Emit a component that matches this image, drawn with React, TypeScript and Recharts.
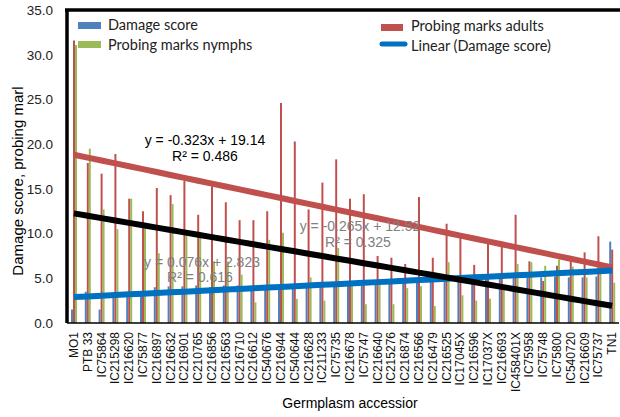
import { ComposedChart, Bar, Line, XAxis, YAxis } from 'recharts';

const accessions = [
  'MO1', 'PTB 33', 'IC75864', 'IC215298', 'IC216620', 'IC75877', 'IC216897', 'IC216632',
  'IC216901', 'IC210765', 'IC216856', 'IC216563', 'IC216710', 'IC216612', 'IC540676',
  'IC216944', 'IC540644', 'IC216628', 'IC211233', 'IC75735', 'IC216678', 'IC75747',
  'IC216640', 'IC215276', 'IC216874', 'IC216566', 'IC216479', 'IC216525', 'IC17045X',
  'IC216596', 'IC17037X', 'IC216693', 'IC458401X', 'IC75958', 'IC75748', 'IC75800',
  'IC540720', 'IC216609', 'IC75737', 'TN1',
];

const damageScore = [
  1.5, 3.5, 1.5, 2.8, 3.0, 3.2, 4.0, 4.1, 4.1, 4.2,
  4.0, 4.2, 4.2, 4.0, 4.2, 4.3, 4.3, 4.4, 4.3, 4.5,
  4.5, 4.6, 4.5, 4.7, 4.6, 4.8, 4.9, 4.8, 5.3, 5.1,
  5.1, 5.0, 5.1, 5.1, 5.1, 5.2, 5.1, 5.1, 5.2, 9.1,
];

const marksAdults = [
  31.6, 17.9, 16.7, 18.9, 13.9, 12.5, 15.1, 14.3, 15.9, 12.1,
  15.3, 13.5, 11.5, 11.5, 12.5, 24.6, 20.3, 12.7, 15.7, 18.3,
  13.9, 14.4, 7.5, 7.3, 6.6, 14.1, 7.3, 11.1, 9.5, 6.5,
  8.9, 8.5, 12.1, 6.9, 4.7, 6.4, 6.9, 7.9, 9.7, 8.2,
];

const marksNymphs = [
  31.1, 19.5, 12.7, 10.5, 13.9, 10.6, 7.8, 13.3, 9.9, 9.7,
  6.9, 6.9, 5.4, 2.3, 9.3, 10.1, 2.7, 5.1, 2.5, 8.4,
  4.3, 2.1, 4.3, 2.1, 3.9, 4.1, 1.9, 6.8, 3.1, 2.5,
  2.7, 3.9, 6.6, 6.8, 6.4, 7.1, 6.3, 5.1, 6.4, 4.5,
];

// trendline equations as printed on the chart: [slope, intercept]
const trendDamage = [0.076, 2.823];
const trendAdults = [-0.323, 19.14];
const trendNymphs = [-0.265, 12.52];

const yTicks = [0, 5, 10, 15, 20, 25, 30, 35];

const data = accessions.map((name, i) => ({
  name,
  damage: damageScore[i],
  adults: marksAdults[i],
  nymphs: marksNymphs[i],
  tDamage: trendDamage[0] * (i + 1) + trendDamage[1],
  tAdults: trendAdults[0] * (i + 1) + trendAdults[1],
  tNymphs: trendNymphs[0] * (i + 1) + trendNymphs[1],
}));

const arial = 'Liberation Sans, Arial, sans-serif';
const legendFont = 'Lato, Calibri, sans-serif';

const XTick = ({ x, payload }: any) => (
  <text
    x={x}
    y={332}
    transform={`rotate(-90 ${x} 332)`}
    textAnchor="end"
    dy="0.35em"
    fontFamily={arial}
    fontSize={12}
    fill="#111"
  >
    {payload.value}
  </text>
);

export default function App() {
  return (
    <div style={{ position: 'absolute', left: 0, top: 0, width: 620, height: 417, background: '#fff' }}>
      <ComposedChart width={620} height={417} data={data} margin={{ top: 10, right: 1, bottom: 0, left: 0 }}>
        <XAxis
          dataKey="name"
          interval={0}
          height={94}
          tick={<XTick />}
          tickLine={false}
          axisLine={{ stroke: '#000', strokeWidth: 1.5 }}
        />
        <YAxis
          width={67}
          domain={[0, 35]}
          ticks={yTicks}
          tickFormatter={(v: number) => v.toFixed(1)}
          tick={{ fontFamily: arial, fontSize: 13.5, fill: '#222' }}
          tickLine={false}
          axisLine={{ stroke: '#000', strokeWidth: 3.5 }}
          tickMargin={8}
        />
        <Bar dataKey="damage" fill="#4F81BD" barSize={2} isAnimationActive={false} />
        <Bar dataKey="adults" fill="#C0504D" barSize={2} isAnimationActive={false} />
        <Bar dataKey="nymphs" fill="#9BBB59" barSize={2} isAnimationActive={false} />
        <Line dataKey="tAdults" stroke="#C0504D" strokeWidth={6} dot={false} isAnimationActive={false} />
        <Line dataKey="tDamage" stroke="#0070C0" strokeWidth={6} dot={false} isAnimationActive={false} />
        <Line dataKey="tNymphs" stroke="#000" strokeWidth={6} dot={false} isAnimationActive={false} />
      </ComposedChart>
      <svg width={620} height={417} style={{ position: 'absolute', left: 0, top: 0, pointerEvents: 'none' }}>
        <line x1={65} y1={10} x2={620} y2={10} stroke="#000" strokeWidth={3.5} />

        <rect x={78} y={22} width={23} height={7} fill="#4F81BD" />
        <text x={108} y={30} fontFamily={legendFont} fontSize={14.5} fill="#222">Damage score</text>
        <rect x={78} y={41} width={23} height={7} fill="#9BBB59" />
        <text x={108} y={50} fontFamily={legendFont} fontSize={14.5} fill="#222">Probing marks nymphs</text>
        <rect x={381} y={24} width={22} height={7} fill="#C0504D" />
        <text x={411} y={31} fontFamily={legendFont} fontSize={14.5} fill="#222">Probing marks adults</text>
        <line x1={382} y1={44} x2={405} y2={44} stroke="#0070C0" strokeWidth={5} strokeLinecap="round" />
        <text x={411} y={51} fontFamily={legendFont} fontSize={14.5} fill="#222">Linear (Damage score)</text>

        <text x={205} y={145} textAnchor="middle" fontFamily={arial} fontSize={14} fill="#000">y = -0.323x + 19.14</text>
        <text x={205} y={161} textAnchor="middle" fontFamily={arial} fontSize={14} fill="#000">R² = 0.486</text>
        <text x={360} y={231} textAnchor="middle" fontFamily={arial} fontSize={14} fill="#808080">y = -0.265x + 12.52</text>
        <text x={358} y={247} textAnchor="middle" fontFamily={arial} fontSize={14} fill="#808080">R² = 0.325</text>
        <text x={202} y={267} textAnchor="middle" fontFamily={arial} fontSize={14} fill="#808080">y = 0.076x + 2.823</text>
        <text x={200} y={282} textAnchor="middle" fontFamily={arial} fontSize={14} fill="#808080">R² = 0.616</text>

        <text
          x={18}
          y={181}
          transform="rotate(-90 18 181)"
          textAnchor="middle"
          dy="0.35em"
          fontFamily={arial}
          fontSize={15}
          fill="#000"
        >
          Damage score, probing marl
        </text>
        <text x={350} y={408} textAnchor="middle" fontFamily={arial} fontSize={14} fill="#000">Germplasm accessior</text>
      </svg>
    </div>
  );
}
